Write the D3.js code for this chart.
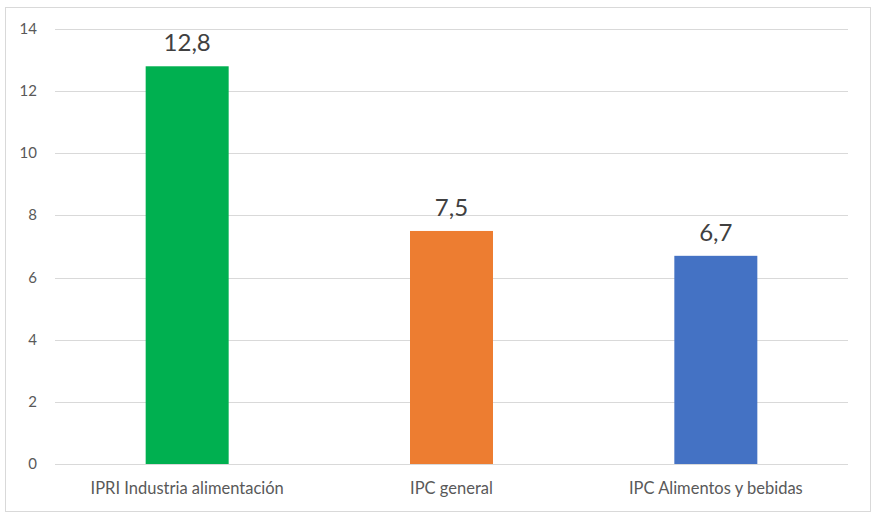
<!DOCTYPE html>
<html lang="es">
<head>
    <meta charset="utf-8">
    <title>IPRI e IPC</title>
    <script src="https://cdn.jsdelivr.net/npm/d3@7"></script>
    <style>
        body { margin: 0; background: #fff; }
        text { font-family: Lato, "Open Sans", sans-serif; }
    </style>
</head>
<body>
<script>
    // Data
    var categories = ["IPRI Industria alimentación", "IPC general", "IPC Alimentos y bebidas"];
    var values = [12.8, 7.5, 6.7];
    var colors = ["#00b050", "#ed7d31", "#4472c4"];
    var yTicks = [0, 2, 4, 6, 8, 10, 12, 14];

    var w = 880, h = 519;
    var margin = {left: 55, right: 32, top: 29, bottom: 55};

    var svg = d3.select("body").append("svg")
        .attr("width", w)
        .attr("height", h);

    // outer frame
    svg.append("rect")
        .attr("x", 5.5).attr("y", 7.5)
        .attr("width", 865).attr("height", 504)
        .attr("fill", "#fff")
        .attr("stroke", "#d9d9d9");

    var xScale = d3.scaleBand()
        .domain(categories)
        .range([margin.left, w - margin.right])
        .paddingInner(0.686)
        .paddingOuter(0.343);

    var yScale = d3.scaleLinear()
        .domain([0, 14])
        .range([h - margin.bottom, margin.top]);

    // gridlines
    svg.selectAll("line.grid")
        .data(yTicks)
        .enter()
        .append("line")
        .attr("class", "grid")
        .attr("x1", margin.left)
        .attr("x2", w - margin.right)
        .attr("y1", function(d) { return Math.round(yScale(d)) + 0.5; })
        .attr("y2", function(d) { return Math.round(yScale(d)) + 0.5; })
        .attr("stroke", "#d9d9d9")
        .attr("stroke-width", 1);

    // y axis labels
    svg.selectAll("text.ytick")
        .data(yTicks)
        .enter()
        .append("text")
        .attr("class", "ytick")
        .attr("x", 37)
        .attr("y", function(d) { return yScale(d) + 5; })
        .attr("text-anchor", "end")
        .attr("font-size", "15px")
        .attr("fill", "#595959")
        .text(function(d) { return d; });

    // bars
    svg.selectAll("rect.bar")
        .data(values)
        .enter()
        .append("rect")
        .attr("class", "bar")
        .attr("x", function(d, i) { return xScale(categories[i]); })
        .attr("y", function(d) { return yScale(d); })
        .attr("width", xScale.bandwidth())
        .attr("height", function(d) { return yScale(0) - yScale(d); })
        .attr("fill", function(d, i) { return colors[i]; });

    // baseline over bars
    svg.append("line")
        .attr("x1", margin.left).attr("x2", w - margin.right)
        .attr("y1", Math.round(yScale(0)) + 0.5).attr("y2", Math.round(yScale(0)) + 0.5)
        .attr("stroke", "#d9d9d9");

    // value labels
    svg.selectAll("text.val")
        .data(values)
        .enter()
        .append("text")
        .attr("class", "val")
        .attr("x", function(d, i) { return xScale(categories[i]) + xScale.bandwidth() / 2; })
        .attr("y", function(d) { return yScale(d) - 15; })
        .attr("text-anchor", "middle")
        .attr("font-size", "24px")
        .attr("fill", "#404040")
        .text(function(d) { return d3.format(".1f")(d).replace(".", ","); });

    // category labels
    svg.selectAll("text.cat")
        .data(categories)
        .enter()
        .append("text")
        .attr("class", "cat")
        .attr("x", function(d) { return xScale(d) + xScale.bandwidth() / 2; })
        .attr("y", h - margin.bottom + 30)
        .attr("text-anchor", "middle")
        .attr("font-size", "16.5px")
        .attr("fill", "#595959")
        .text(function(d) { return d; });
</script>
</body>
</html>
